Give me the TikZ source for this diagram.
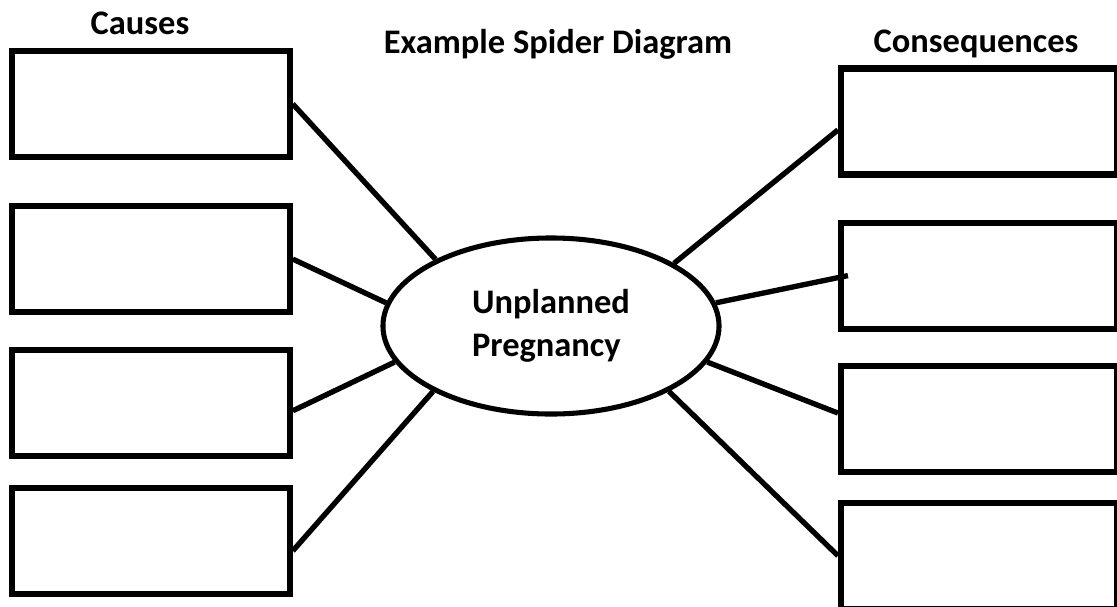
\documentclass[tikz,border=0pt]{standalone}
\usepackage{fontspec}
\setmainfont{Carlito}
\usetikzlibrary{shapes.geometric, positioning}
\newcommand{\spiderfont}{\fontsize{24.5}{30.6}\selectfont\bfseries}

\begin{document}
\begin{tikzpicture}[x = 0.025cm, y = -0.025cm, font = \spiderfont,
    box/.style = {rectangle, draw, line width = 4.3pt, minimum width = 6.95cm, minimum height = 2.65cm},
    leg/.style = {line width = 3.8pt}]
    \useasboundingbox (0,0) rectangle (1117,606);
    % titoli
    \node[anchor = base] (causes) at (140,34) {Causes};
    \node[anchor = base] (title) at (558,53) {Example Spider Diagram};
    \node[anchor = base] (consequences) at (976,52) {Consequences};
    % centro
    \node[ellipse, draw, line width = 3.6pt, minimum width = 8.4cm, minimum height = 4.4cm, inner sep = 0pt, align = left] (hub) at (551,326) {Unplanned\\Pregnancy};
    % cause
    \node[box] (cause1) at (150.75,104) {};
    \node[box] (cause2)[below = 1.075cm of cause1] {};
    \node[box] (cause3)[below = 0.8cm of cause2] {};
    \node[box] (cause4)[below = 0.65cm of cause3] {};
    % conseguenze
    \node[box, minimum width = 6.9cm] (conseq1) at (979,121.5) {};
    \node[box, minimum width = 6.9cm] (conseq2)[below = 1.05cm of conseq1] {};
    \node[box, minimum width = 6.9cm] (conseq3)[below = 0.775cm of conseq2] {};
    \node[box, minimum width = 6.9cm] (conseq4)[below = 0.625cm of conseq3] {};
    \draw[leg] (cause1.east) -- (hub.150);
    \draw[leg] (cause2.east) -- (hub.172);
    \draw[leg] ([yshift = -0.19cm]cause3.east) -- (hub.193);
    \draw[leg] ([yshift = -0.24cm]cause4.east) -- (hub.209);
    \draw[leg] ([yshift = -0.21cm]conseq1.west) -- (hub.27);
    \draw[leg] ([xshift = 0.25cm]conseq2.west) -- (hub.8);
    \draw[leg] ([yshift = 0.14cm]conseq3.west) -- (hub.347);
    \draw[leg] (conseq4.west) -- (hub.331);
\end{tikzpicture}
\end{document}
